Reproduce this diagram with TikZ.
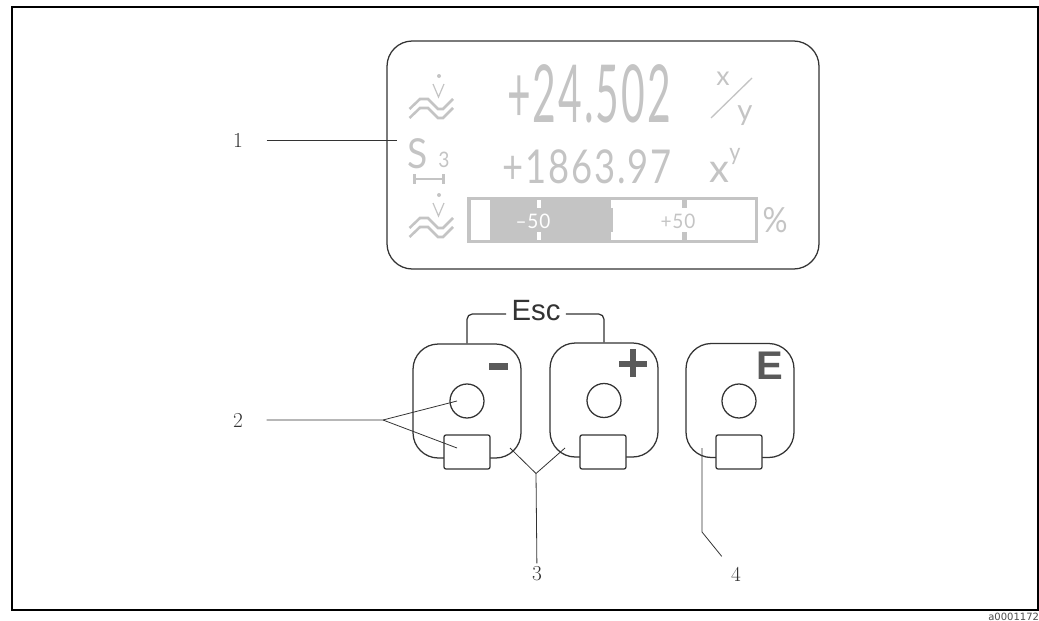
\documentclass[tikz,border=0pt]{standalone}
\usepackage{fontspec}
\usepackage{xcolor}
\usetikzlibrary{arrows.meta}
\newfontfamily\dspfont[LetterSpace=5]{Lato}
\newfontfamily\keyfont{Liberation Sans}
\newfontfamily\tagfont{DejaVu Sans}
\definecolor{dspgray}{HTML}{C4C4C4}
\definecolor{keygray}{HTML}{5A5A5A}
\definecolor{linegray}{HTML}{333333}
\newcommand{\dsptxt}[3]{\scalebox{#2}[1]{\fontsize{#1}{#1}\dspfont #3}}

\begin{document}
\begin{tikzpicture}[
  x=0.75pt, y=-0.75pt,
  nd/.style={inner sep=0pt, outer sep=0pt},
  lb/.style={font=\fontsize{16}{16}\selectfont, text=black!80, inner xsep=17.8pt, inner ysep=2.6pt, outer sep=0pt},
  dsp/.style={nd, text=dspgray},
  panel/.style={draw=linegray, line width=0.95pt, rounded corners=19pt, minimum width=324pt, minimum height=171pt, inner sep=0pt},
  keyb/.style={draw=linegray, line width=0.95pt, rounded corners=19pt, minimum width=81pt, minimum height=85.5pt, inner sep=0pt},
  lens/.style={draw=linegray, line width=0.95pt, circle, minimum size=25.5pt, inner sep=0pt},
  sensor/.style={draw=linegray, fill=white, line width=0.95pt, rounded corners=1.5pt, minimum width=34.5pt, minimum height=25.5pt, inner sep=0pt},
  lead/.style={draw=linegray, line width=0.6pt},
  dspline/.style={draw=dspgray, line width=1.5pt}]
  \useasboundingbox (0,0) rectangle (1039,621);
  % frame
  \node[nd, draw=black, line width=1.5pt, minimum width=769.5pt, minimum height=452.6pt] (frame) at (525,308.75) {};
  \node[nd, anchor=east, text=black!70, font=\fontsize{7.5}{7.5}\tagfont] (tag) at (1039,616.5) {a0001172};
  % display
  \node[panel] (disp) at (603,155) {};
  \node[dsp] (val1) at (589,94) {\dsptxt{60}{0.51}{+24.502}};
  \node[dsp] (val2) at (587,167) {\dsptxt{35}{0.78}{+1863.97}};
  \node[dsp] (unS)  at (417.5,154) {\dsptxt{31}{0.9}{S}};
  \node[dsp] (un3)  at (444,160) {\dsptxt{16}{0.9}{3}};
  \node[dsp] (unx)  at (719.5,172) {\dsptxt{30}{1}{x}};
  \node[dsp] (uny)  at (735,156) {\dsptxt{18}{0.9}{y}};
  \node[dsp] (frx)  at (723,79) {\dsptxt{20}{1}{x}};
  \node[dsp] (fry)  at (745,116) {\dsptxt{22}{1}{y}};
  \node[dsp] (pct)  at (775,220) {\dsptxt{26}{0.9}{\%}};
  \draw[dspline, line width=1pt] (711,118)--(752,78);
  % S bar
  \draw[dspline, {Bar[width=7pt,line width=2pt]}-{Bar[width=7pt,line width=2pt]}, line width=1.6pt] (413,179)--(445,179);
  % flow symbols
  \foreach \dy/\nm in {0/a,119/b} {
    \fill[dspgray] (439,76+\dy) circle (1.5pt);
    \draw[dspline, line width=0.9pt] (433,84+\dy)--(438.5,97+\dy)--(444,84+\dy);
    \draw[dspline, line width=1.9pt] (409.5,109+\dy)--(420,99+\dy)--(428,99+\dy)--(438,109+\dy)--(443,109+\dy)--(453,99+\dy);
    \draw[dspline, line width=1.9pt] (409.5,118+\dy)--(420,108+\dy)--(428,108+\dy)--(438,118+\dy)--(443,118+\dy)--(453,108+\dy);
  }
  % bar graph
  \fill[dspgray] (467,197) rectangle (612,243);
  \draw[dspline, line width=2.2pt] (612,198.5) rectangle (756.5,241.5);
  \fill[white] (471,200) rectangle (490,240);
  \foreach \xa in {537,611} {
    \fill[white] (\xa,200) rectangle (\xa+4,208);
    \fill[white] (\xa,232) rectangle (\xa+4,240);
  }
  \fill[dspgray] (682,200) rectangle (686.5,208);
  \fill[dspgray] (682,232) rectangle (686.5,240);
  \node[nd, text=white] (mfif) at (533,221) {\dsptxt{15}{0.95}{–50}};
  \node[dsp] (pfif) at (678,221) {\dsptxt{15}{0.95}{+50}};
  % keys
  \node[keyb] (kminus) at (467,401) {};
  \node[keyb] (kplus)  at (604,400) {};
  \node[keyb] (kenter) at (740,400.5) {};
  \node[lens] (lminus) at (467,401) {};
  \node[lens] (lplus)  at (604,400.5) {};
  \node[lens] (lenter) at (739,401) {};
  \node[sensor] (sminus) at (467,452) {};
  \node[sensor] (splus)  at (603,452) {};
  \node[sensor] (senter) at (739,452) {};
  \fill[keygray] (489,363) rectangle (508,370);
  \fill[keygray] (619,360.5) rectangle (647,366.5);
  \fill[keygray] (630,349) rectangle (636,377);
  \node[nd, text=keygray, font=\fontsize{30}{30}\keyfont\bfseries] (eE) at (770,365.5) {E};
  % esc
  \node[font=\fontsize{22}{22}\keyfont, text=linegray, inner xsep=4pt, inner ysep=0pt, text depth=5.25pt, outer sep=0pt] (esc) at (536,314) {Esc};
  \draw[draw=linegray, line width=0.95pt, rounded corners=4pt] (kminus.north) |- (esc.west);
  \draw[draw=linegray, line width=0.95pt, rounded corners=4pt] (kplus.north) |- (esc.east);
  % callouts
  \node[lb] (n1) at (238,140) {1};
  \node[lb] (n2) at (238,420) {2};
  \node[lb, inner xsep=2pt] (n3) at (537,574) {3};
  \node[lb, inner xsep=2pt] (n4) at (736,574) {4};
  \coordinate (e1) at (397,140);
  \coordinate (j2) at (383,420);
  \coordinate (a2) at (457,401);
  \coordinate (b2) at (457,448);
  \coordinate (j3) at (536,473.5);
  \coordinate (a3) at (510,448);
  \coordinate (b3) at (565,448);
  \coordinate (c4) at (702,532);
  \coordinate (e4) at (702,448);
  \draw[lead] (n1)--(e1);
  \draw[lead] (n2)--(j2)--(a2);
  \draw[lead] (j2)--(b2);
  \draw[lead] (n3)--(j3);
  \draw[lead] (a3)--(j3)--(b3);
  \draw[lead, shorten <=8pt] (n4)--(c4)--(e4);
\end{tikzpicture}
\end{document}
